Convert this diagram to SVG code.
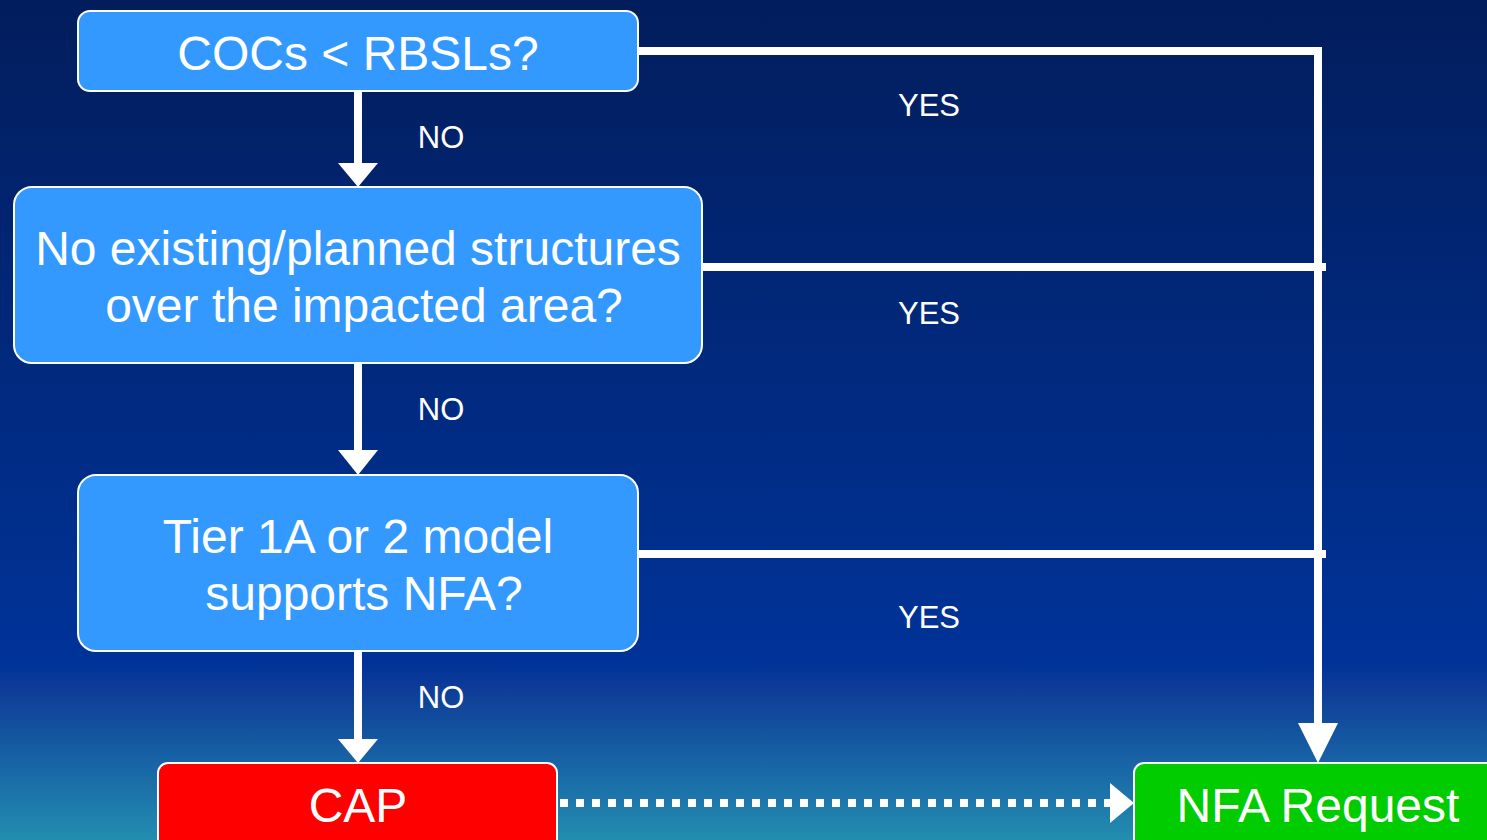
<svg xmlns="http://www.w3.org/2000/svg" width="1487" height="840" viewBox="0 0 1487 840">
<defs>
<linearGradient id="bg" x1="0" y1="0" x2="0" y2="1">
<stop offset="0" stop-color="#021d5c"/>
<stop offset="0.79" stop-color="#003399"/>
<stop offset="0.82" stop-color="#0e3c98"/>
<stop offset="0.9" stop-color="#1760a4"/>
<stop offset="1" stop-color="#238db0"/>
</linearGradient>
<style>
.box{fill:#3399ff;stroke:#ffffff;stroke-width:2}
.t{font-family:"Liberation Sans",Arial,sans-serif;fill:#ffffff;text-anchor:middle}
.big{font-size:48px}
.lbl{font-size:31px}
.ln{stroke:#ffffff;stroke-width:8;fill:none}
.ah{fill:#ffffff}
</style>
</defs>
<rect x="0" y="0" width="1487" height="840" fill="url(#bg)"/>
<g id="connectors">
<line class="ln" x1="358" y1="91" x2="358" y2="165"/>
<polygon class="ah" points="338,163 378,163 358,187"/>
<line class="ln" x1="358" y1="363" x2="358" y2="452"/>
<polygon class="ah" points="338,450 378,450 358,475"/>
<line class="ln" x1="358" y1="651" x2="358" y2="741"/>
<polygon class="ah" points="338,739 378,739 358,763"/>
<polyline class="ln" points="638,51 1318,51 1318,725"/>
<polygon class="ah" points="1298,723 1338,723 1318,763"/>
<line class="ln" x1="702" y1="267" x2="1326" y2="267"/>
<line class="ln" x1="638" y1="554" x2="1326" y2="554"/>
<line class="ln" x1="560" y1="803" x2="1112" y2="803" stroke-dasharray="8 8"/>
<polygon class="ah" points="1110,783 1110,823 1134,803"/>
<text class="t lbl" x="441" y="148">NO</text>
<text class="t lbl" x="441" y="420">NO</text>
<text class="t lbl" x="441" y="708">NO</text>
<text class="t lbl" x="929" y="116">YES</text>
<text class="t lbl" x="929" y="324">YES</text>
<text class="t lbl" x="929" y="628">YES</text>
</g>
<g id="n1">
<rect class="box" x="78" y="11" width="560" height="80" rx="12"/>
<text class="t big" x="358" y="70">COCs &lt; RBSLs?</text>
</g>
<g id="n2">
<rect class="box" x="14" y="187" width="688" height="176" rx="18"/>
<text class="t big" x="358" y="265">No existing/planned structures</text>
<text class="t big" x="364" y="322">over the impacted area?</text>
</g>
<g id="n3">
<rect class="box" x="78" y="475" width="560" height="176" rx="18"/>
<text class="t big" x="358" y="553">Tier 1A or 2 model</text>
<text class="t big" x="364" y="610">supports NFA?</text>
</g>
<g id="cap">
<rect x="158" y="763" width="399" height="100" rx="10" fill="#ff0000" stroke="#ffffff" stroke-width="2"/>
<text class="t big" x="358" y="822">CAP</text>
</g>
<g id="nfa">
<rect x="1134" y="763" width="370" height="100" rx="10" fill="#00cc00" stroke="#ffffff" stroke-width="2"/>
<text class="t big" x="1318" y="822">NFA Request</text>
</g>
</svg>
